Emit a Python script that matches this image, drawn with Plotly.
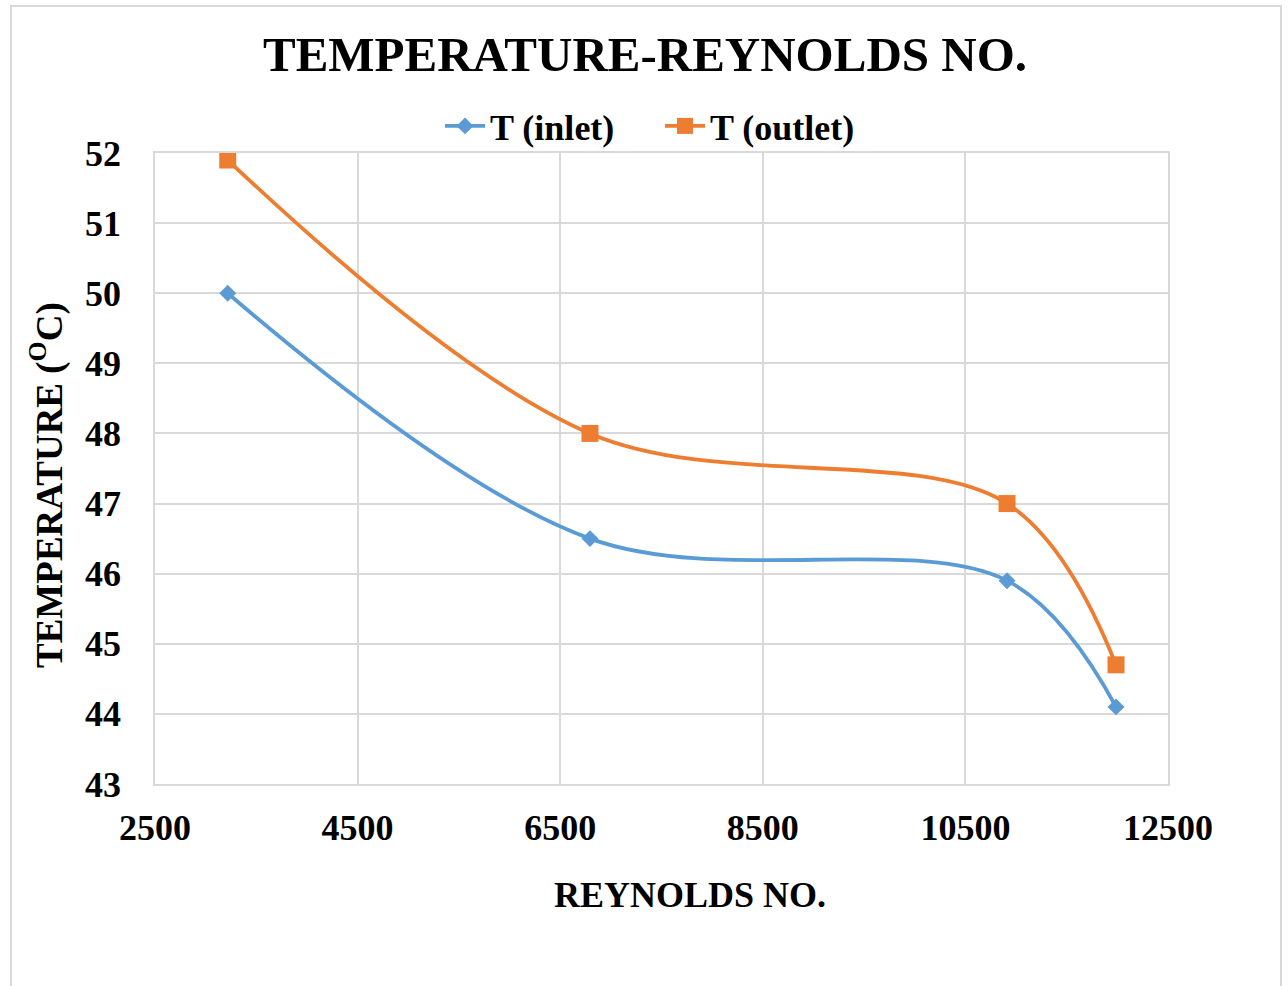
import plotly.graph_objects as go

# Data
reynolds = [3218, 6794, 10911, 11987]
t_inlet = [50.0, 46.5, 45.9, 44.1]
t_outlet = [51.9, 48.0, 47.0, 44.7]

x_ticks = [2500, 4500, 6500, 8500, 10500, 12500]
y_ticks = [43, 44, 45, 46, 47, 48, 49, 50, 51, 52]

W, H = 1288, 986
L, R, T, B = 155, 120, 153, 202
pw, ph = W - L - R, H - T - B

def px_x(px):
    return (px - L) / pw

def px_y(py):
    return (H - B - py) / ph

FONT = "Liberation Serif"
BLUE = "#5B9BD5"
ORANGE = "#ED7D31"
GRID = "#D9D9D9"

fig = go.Figure()
fig.add_trace(go.Scatter(
    x=reynolds, y=t_inlet, name="<b>T (inlet)</b>", mode="lines+markers",
    line=dict(color=BLUE, width=3.8, shape="spline", smoothing=1.0),
    marker=dict(symbol="diamond", size=13, color=BLUE),
))
fig.add_trace(go.Scatter(
    x=reynolds, y=t_outlet, name="<b>T (outlet)</b>", mode="lines+markers",
    line=dict(color=ORANGE, width=3.8, shape="spline", smoothing=1.0),
    marker=dict(symbol="square", size=17, color=ORANGE),
))

fig.update_layout(
    width=W, height=H,
    margin=dict(l=L, r=R, t=T, b=B, pad=0),
    paper_bgcolor="white", plot_bgcolor="white",
    font=dict(family=FONT, size=36, color="black"),
    title=dict(text="<b>TEMPERATURE-REYNOLDS NO.</b>", x=645 / W, xanchor="center",
               y=1 - 54 / H, yanchor="middle", font=dict(family=FONT, size=49, color="black")),
    legend=dict(orientation="h", x=px_x(440), xanchor="left", y=px_y(126), yanchor="middle",
                font=dict(family=FONT, size=36, color="black"), bgcolor="rgba(0,0,0,0)",
                itemwidth=40, entrywidth=165, entrywidthmode="pixels", tracegroupgap=0),
    showlegend=True,
)
fig.update_xaxes(
    range=[2500, 12500], tickvals=x_ticks, ticktext=["<b>%d</b>" % v for v in x_ticks],
    showgrid=True, gridcolor=GRID, gridwidth=1.5, zeroline=False,
    showline=True, linecolor=GRID, linewidth=1.5, mirror=True,
    ticks="", ticklabelstandoff=11, tickfont=dict(family=FONT, size=36, color="black"),
)
fig.update_yaxes(
    range=[43, 52], tickvals=y_ticks, ticktext=["<b>%d</b>" % v for v in y_ticks],
    showgrid=True, gridcolor=GRID, gridwidth=1.5, zeroline=False,
    showline=True, linecolor=GRID, linewidth=1.5, mirror=True,
    ticks="", ticklabelstandoff=25, tickfont=dict(family=FONT, size=36, color="black"),
)

fig.add_annotation(text="<b>REYNOLDS NO.</b>", xref="paper", yref="paper",
                   x=px_x(690), y=px_y(895), xanchor="center", yanchor="middle",
                   showarrow=False, font=dict(family=FONT, size=36, color="black"))
fig.add_annotation(text="<b>TEMPERATURE (<sup>O</sup>C)</b>", xref="paper", yref="paper",
                   x=px_x(47), y=px_y(485), xanchor="center", yanchor="middle", textangle=-90,
                   showarrow=False, font=dict(family=FONT, size=37, color="black"))

# outer chart-area border
fig.add_shape(type="rect", xref="paper", yref="paper",
              x0=px_x(11), x1=px_x(1281), y0=px_y(1000), y1=px_y(6),
              line=dict(color=GRID, width=2), fillcolor="rgba(0,0,0,0)", layer="below")

fig.write_html("out.html", config={"displayModeBar": False},
               post_script="document.body.style.margin='0';document.body.style.overflow='hidden';")
